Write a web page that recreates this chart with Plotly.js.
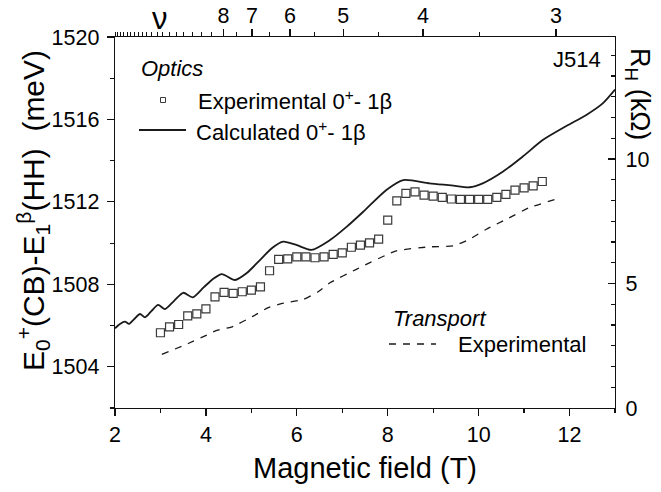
<!DOCTYPE html>
<html><head><meta charset="utf-8">
<script src="https://cdn.plot.ly/plotly-3.0.1.min.js"></script>
<style>body{margin:0;background:#fff}#chart{width:661px;height:492px}</style>
</head><body><div id="chart"></div>
<script>
// Optics: experimental 0+ - 1beta transition energies (meV) vs magnetic field (T)
const fieldExp = [3.0,3.2,3.4,3.6,3.8,4.0,4.2,4.4,4.6,4.8,5.0,5.2,5.4,5.6,5.8,6.0,6.2,6.4,6.6,6.8,7.0,7.2,7.4,7.6,7.8,8.0,8.2,8.4,8.6,8.8,9.0,9.2,9.4,9.6,9.8,10.0,10.2,10.4,10.6,10.8,11.0,11.2,11.4];
const energyExp = [1505.65,1505.94,1506.05,1506.47,1506.57,1506.81,1507.39,1507.61,1507.56,1507.64,1507.72,1507.88,1508.66,1509.21,1509.24,1509.33,1509.33,1509.29,1509.33,1509.45,1509.53,1509.80,1509.90,1510.01,1510.19,1511.12,1512.05,1512.41,1512.49,1512.33,1512.28,1512.22,1512.14,1512.12,1512.12,1512.12,1512.12,1512.22,1512.36,1512.57,1512.68,1512.78,1512.99];
// Optics: calculated 0+ - 1beta
const fieldCalc = [2.00,2.11,2.22,2.31,2.43,2.55,2.66,2.80,2.95,3.10,3.30,3.50,3.71,3.95,4.15,4.35,4.64,4.90,5.20,5.45,5.70,6.00,6.32,6.73,7.10,7.46,7.97,8.34,8.92,9.40,9.80,10.09,10.53,10.97,11.41,11.93,12.37,12.73,13.00];
const energyCalc = [1505.87,1506.08,1506.19,1506.08,1506.33,1506.56,1506.40,1506.70,1507.00,1506.80,1507.20,1507.59,1507.37,1507.85,1508.25,1508.50,1508.21,1508.55,1509.20,1509.75,1510.07,1509.90,1509.67,1510.15,1510.80,1511.52,1512.58,1513.06,1512.90,1512.80,1512.71,1512.90,1513.46,1514.20,1515.00,1515.68,1516.22,1516.78,1517.45];
// Transport: experimental Hall resistance R_H (kOhm)
const fieldTransport = [3.03,3.61,4.02,4.24,4.56,5.04,5.37,5.66,6.14,6.47,6.73,7.31,8.19,8.92,9.44,9.80,10.17,10.61,11.12,11.71];
const resistTransport = [2.15,2.59,2.93,3.12,3.25,3.69,4.03,4.19,4.36,4.67,5.03,5.57,6.31,6.47,6.51,6.78,7.18,7.58,8.05,8.39];
// Filling factor axis (top)
const nuLabels = [8,7,6,5,4,3];
const nuMinor = [3.5,4.5,5.5,6.5,7.5,8.5,9,9.5,10,10.5,11,11.5,12,12.5,13,13.5,14,14.5,15,15.5,16,16.5,17,17.5];
const NU_TIMES_B = 35.1;

const W=661,H=492,ML=115,MR=46,MT=37,MB=84;
const PW=W-ML-MR, PH=H-MT-MB;
const px = x => (x-ML)/PW;
const py = y => 1-(y-MT)/PH;
const FONT = 'Liberation Sans, Arial, Helvetica, sans-serif';
const INK = '#111';
const LEG = 22;

const traces = [
  {x: fieldCalc, y: energyCalc, mode:'lines', line:{color:'#1a1a1a', width:1.8, shape:'spline', smoothing:0.7}, xaxis:'x', yaxis:'y', hoverinfo:'skip'},
  {x: fieldExp, y: energyExp, mode:'markers', marker:{symbol:'square-open', size:8, color:'#3a3a3a', line:{width:1.2, color:'#3a3a3a'}}, xaxis:'x', yaxis:'y', hoverinfo:'skip'},
  {x: fieldTransport, y: resistTransport, mode:'lines', line:{color:'#1a1a1a', width:1.3, dash:'7px,7px', shape:'spline', smoothing:0.5}, xaxis:'x', yaxis:'y2', hoverinfo:'skip'},
  {x:[2], y:[1502], mode:'markers', marker:{opacity:0, size:1}, xaxis:'x2', yaxis:'y', hoverinfo:'skip'}
];

const axCommon = {showline:true, linecolor:INK, linewidth:1.3, showgrid:false, zeroline:false,
  tickcolor:INK, tickwidth:1.2, tickfont:{size:21.5, family:FONT, color:'#000'}};

const layout = {
  width:W, height:H, margin:{l:ML, r:MR, t:MT, b:MB, pad:0},
  paper_bgcolor:'#fff', plot_bgcolor:'#fff', showlegend:false,
  font:{family:FONT, color:'#000'},
  xaxis: Object.assign({}, axCommon, {range:[2,13], tickmode:'linear', tick0:2, dtick:2, ticks:'outside', ticklen:7,
    minor:{dtick:1, tick0:2, ticks:'outside', ticklen:4, tickwidth:1.2, tickcolor:INK}}),
  xaxis2: Object.assign({}, axCommon, {overlaying:'x', side:'top', range:[2,13], tickmode:'array',
    tickvals: nuLabels.map(n=>NU_TIMES_B/n), ticktext: nuLabels.map(String), ticks:'outside', ticklen:7, ticklabelstandoff:-3,
    minor:{tickmode:'array', tickvals: nuMinor.map(n=>NU_TIMES_B/n), ticks:'outside', ticklen:4, tickwidth:1, tickcolor:INK}}),
  yaxis: Object.assign({}, axCommon, {range:[1502,1520], tickmode:'linear', tick0:1504, dtick:4, ticks:'outside', ticklen:7, ticklabelstandoff:3,
    minor:{dtick:2, tick0:1504, ticks:'outside', ticklen:4, tickwidth:1.2, tickcolor:INK}}),
  yaxis2: Object.assign({}, axCommon, {overlaying:'y', side:'right', range:[0,14.9], tickmode:'linear', tick0:0, dtick:5, ticks:'inside', ticklen:7, ticklabelstandoff:5,
    minor:{dtick:5/6, tick0:0, ticks:'inside', ticklen:4, tickwidth:1.2, tickcolor:INK}}),
  annotations: [
    {text:'E<sub>0</sub><sup>+</sup>(CB)-E<sub>1</sub><sup>β</sup>(HH)  (meV)', x:px(33), y:py(211), xref:'paper', yref:'paper', textangle:-90, showarrow:false, font:{size:30, family:FONT, color:'#000'}, xanchor:'center', yanchor:'middle'},
    {text:'Magnetic field (T)', x:px(365), y:py(468), xref:'paper', yref:'paper', showarrow:false, font:{size:29, family:FONT, color:'#000'}, xanchor:'center', yanchor:'middle'},
    {text:'R<sub>H</sub> (kΩ)', x:px(638), y:py(94), xref:'paper', yref:'paper', textangle:90, showarrow:false, font:{size:27, family:FONT, color:'#000'}, xanchor:'center', yanchor:'middle'},
    {text:'ν', x:px(160), y:py(18), xref:'paper', yref:'paper', showarrow:false, font:{size:31, family:FONT, color:'#000'}, xanchor:'center', yanchor:'middle'},
    {text:'J514', x:px(603), y:py(60), xref:'paper', yref:'paper', showarrow:false, font:{size:22, family:FONT, color:'#000'}, xanchor:'right', yanchor:'middle'},
    {text:'<i>Optics</i>', x:px(139), y:py(69), xref:'paper', yref:'paper', showarrow:false, font:{size:LEG, family:FONT, color:'#000'}, xanchor:'left', yanchor:'middle'},
    {text:'Experimental 0<sup>+</sup>- 1β', x:px(196), y:py(100), xref:'paper', yref:'paper', showarrow:false, font:{size:LEG, family:FONT, color:'#000'}, xanchor:'left', yanchor:'middle'},
    {text:'Calculated 0<sup>+</sup>- 1β', x:px(194), y:py(131), xref:'paper', yref:'paper', showarrow:false, font:{size:LEG, family:FONT, color:'#000'}, xanchor:'left', yanchor:'middle'},
    {text:'<i>Transport</i>', x:px(391), y:py(318), xref:'paper', yref:'paper', showarrow:false, font:{size:LEG, family:FONT, color:'#000'}, xanchor:'left', yanchor:'middle'},
    {text:'Experimental', x:px(456), y:py(344), xref:'paper', yref:'paper', showarrow:false, font:{size:LEG, family:FONT, color:'#000'}, xanchor:'left', yanchor:'middle'}
  ],
  shapes: [
    {type:'rect', xref:'paper', yref:'paper', x0:px(160.5), x1:px(165.5), y0:py(97.5), y1:py(102.5), line:{color:'#3a3a3a', width:1}},
    {type:'line', xref:'paper', yref:'paper', x0:px(139), x1:px(186), y0:py(130), y1:py(130), line:{color:'#1a1a1a', width:1.8}},
    {type:'line', xref:'paper', yref:'paper', x0:px(389), x1:px(436), y0:py(344), y1:py(344), line:{color:'#1a1a1a', width:1.3, dash:'7px,7px'}}
  ]
};

Plotly.newPlot('chart', traces, layout, {staticPlot:true, displayModeBar:false});
</script>
</body></html>
